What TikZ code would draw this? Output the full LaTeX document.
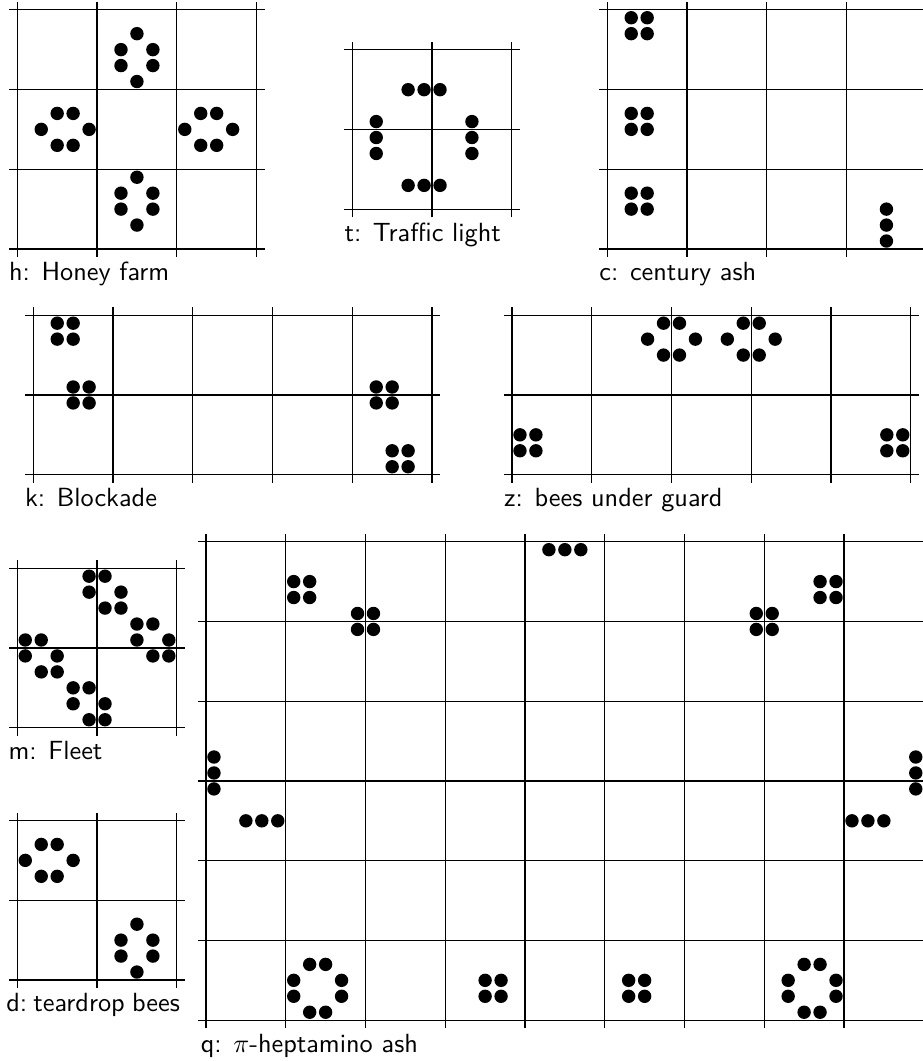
\RequirePackage{fix-cm}
\documentclass[tikz,border=0pt]{standalone}
\usepackage{fontspec}
\tikzset{
  gridline/.style={line width=0.5pt, black},
  bee/.style={fill=black},
  caption/.style={anchor=base west, inner sep=0pt, font=\fontsize{10.3}{12}\selectfont\sffamily}
}
\newcommand\lifegrid[2]{%
  \pgfmathtruncatemacro\lgnx{#1/5}%
  \pgfmathtruncatemacro\lgny{#2/5}%
  \foreach \li in {0,...,\lgnx} \draw[gridline] (5*\li,-0.5) -- (5*\li,#2+0.5);%
  \foreach \lj in {0,...,\lgny} \draw[gridline] (-0.5,5*\lj) -- (#1+0.5,5*\lj);%
}
\newcommand\lifecells[1]{\foreach \cx/\cy in {#1} \fill[bee] (\cx+0.5,\cy+0.5) circle (0.42);}
\begin{document}
\begin{tikzpicture}[x=6.25pt,y=6.25pt]
\useasboundingbox (0,0) rectangle (57.868,-66.520);
\clip (0,0) rectangle (57.868,-66.520);

% h: Honey farm
\begin{scope}[shift={(1.085,-15.611)}]
  \lifegrid{15}{15}
  \lifecells{7/13,6/12,8/12,6/11,8/11,7/10, 2/8,3/8,1/7,4/7,2/6,3/6, 11/8,12/8,10/7,13/7,11/6,12/6, 7/4,6/3,8/3,6/2,8/2,7/1}
  \node[caption] (lh) at (-0.55,-2.0) {h: Honey farm};
\end{scope}

% t: Traffic light
\begin{scope}[shift={(22.088,-13.122)}]
  \lifegrid{10}{10}
  \lifecells{3/7,4/7,5/7, 1/5,1/4,1/3, 7/5,7/4,7/3, 3/1,4/1,5/1}
  \node[caption] (lt) at (-0.52,-2.0) {t: Traffic light};
\end{scope}

% c: century ash
\begin{scope}[shift={(38.075,-15.611)}]
  \lifegrid{20}{15}
  \lifecells{1/14,2/14,1/13,2/13, 1/8,2/8,1/7,2/7, 1/3,2/3,1/2,2/2, 17/2,17/1,17/0}
  \node[caption] (lc) at (-0.53,-2.0) {c: century ash};
\end{scope}

% k: Blockade
\begin{scope}[shift={(2.088,-29.762)}]
  \lifegrid{25}{10}
  \lifecells{1/9,2/9,1/8,2/8, 2/5,3/5,2/4,3/4, 21/5,22/5,21/4,22/4, 22/1,23/1,22/0,23/0}
  \node[caption] (lk) at (-0.55,-2.0) {k: Blockade};
\end{scope}

% z: bees under guard
\begin{scope}[shift={(32.100,-29.762)}]
  \lifegrid{25}{10}
  \lifecells{9/9,10/9,8/8,11/8,9/7,10/7, 14/9,15/9,13/8,16/8,14/7,15/7, 0/2,1/2,0/1,1/1, 23/2,24/2,23/1,24/1}
  \node[caption] (lz) at (-0.52,-2.0) {z: bees under guard};
\end{scope}

% m: Fleet
\begin{scope}[shift={(1.085,-45.624)}]
  \lifegrid{10}{10}
  \lifecells{4/9,5/9,4/8,6/8,5/7,6/7, 7/6,8/6,7/5,9/5,8/4,9/4, 0/5,1/5,0/4,2/4,1/3,2/3, 3/2,4/2,3/1,5/1,4/0,5/0}
  \node[caption] (lm) at (-0.58,-2.0) {m: Fleet};
\end{scope}

% d: teardrop bees
\begin{scope}[shift={(1.085,-61.442)}]
  \lifegrid{10}{10}
  \lifecells{1/8,2/8,0/7,3/7,1/6,2/6, 7/3,6/2,8/2,6/1,8/1,7/0}
  \node[caption] (ld) at (-0.72,-2.0) {d:\hspace{2.4pt}teardrop\hspace{2.9pt}bees};
\end{scope}

% q: pi-heptamino ash
\begin{scope}[shift={(12.915,-63.962)}]
  \lifegrid{45}{30}
  \lifecells{21/29,22/29,23/29, 5/27,6/27,5/26,6/26, 9/25,10/25,9/24,10/24, 38/27,39/27,38/26,39/26, 34/25,35/25,34/24,35/24, 0/16,0/15,0/14, 44/16,44/15,44/14, 2/12,3/12,4/12, 40/12,41/12,42/12, 6/3,7/3,5/2,8/2,5/1,8/1,6/0,7/0, 17/2,18/2,17/1,18/1, 26/2,27/2,26/1,27/1, 37/3,38/3,36/2,39/2,36/1,39/1,37/0,38/0}
  \node[caption] (lq) at (-0.36,-2.0) {q: $\pi$-heptamino ash};
\end{scope}
\end{tikzpicture}
\end{document}
